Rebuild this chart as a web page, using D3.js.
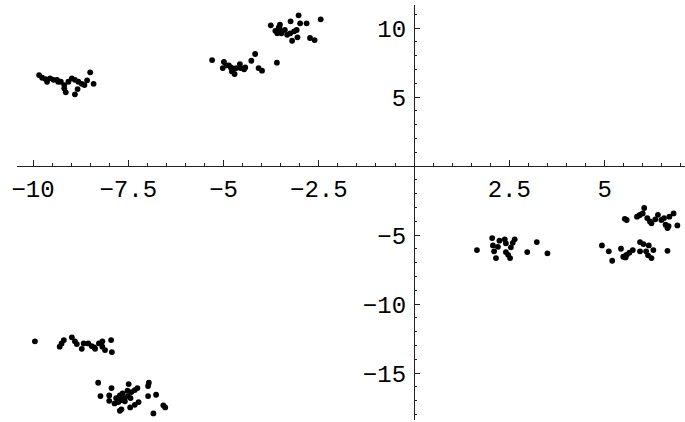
<!DOCTYPE html>
<html>
<head>
<meta charset="utf-8">
<script src="https://cdn.jsdelivr.net/npm/d3@7"></script>
<style>
  body { margin: 0; background: #fff; }
  svg { display: block; }
  .lbl { font-family: "Liberation Mono", "Courier New", monospace; font-size: 24px; fill: #000; }
</style>
</head>
<body>
<div id="chart"></div>
<script>
// point groups, [x, y]
var groupA = [[-9.84,6.59],[-9.76,6.40],[-9.67,6.30],[-9.63,6.11],[-9.55,6.36],[-9.46,6.25],[-9.37,6.25],[-9.34,6.11],
  [-9.27,6.11],[-9.18,5.87],[-9.14,5.34],[-9.18,5.63],[-9.07,6.11],[-8.98,6.36],[-8.90,6.25],[-8.81,6.11],[-8.72,5.96],
  [-8.90,5.20],[-8.65,5.87],[-8.50,6.79],[-8.41,5.96],[-8.58,6.21],[-8.83,5.58]];
var groupB = [[-5.30,7.68],[-4.99,7.54],[-5.02,7.10],[-4.92,7.30],[-4.81,7.15],[-4.78,6.86],[-4.71,6.67],[-4.67,7.10],
  [-4.57,7.39],[-4.55,7.10],[-4.43,7.15],[-4.46,7.01],[-4.27,7.63],[-4.17,8.12],[-4.08,7.10],[-3.99,6.91],[-3.60,7.49],
  [-4.75,7.05],[-4.86,7.30]];
var groupC = [[-3.76,10.20],[-3.64,9.80],[-3.59,9.62],[-3.52,10.24],[-3.52,9.91],[-3.39,9.86],[-3.48,9.62],[-3.24,10.49],
  [-3.25,9.62],[-3.20,9.08],[-3.15,9.76],[-3.08,9.86],[-3.03,10.92],[-2.99,10.34],[-2.82,10.34],[-3.06,9.33],[-2.45,10.63],
  [-2.73,9.28],[-2.61,9.13],[-3.33,9.51],[-3.55,10.05]];
var groupD = [[-9.95,-12.70],[-9.30,-13.09],[-9.25,-12.85],[-9.19,-12.61],[-8.98,-12.41],[-8.90,-12.70],[-8.85,-12.90],
  [-8.67,-12.85],[-8.72,-13.24],[-8.55,-12.85],[-8.46,-13.04],[-8.37,-13.24],[-8.27,-12.85],[-8.18,-13.09],[-8.11,-13.33],
  [-7.95,-12.61],[-7.93,-13.48],[-8.18,-12.70],[-8.39,-13.14]];
var groupE = [[-8.29,-15.70],[-7.94,-16.09],[-8.23,-16.67],[-8.00,-16.62],[-8.00,-17.01],[-7.86,-17.20],[-7.82,-16.81],
  [-7.72,-16.62],[-7.65,-16.47],[-7.59,-16.81],[-7.68,-16.96],[-7.51,-16.67],[-7.52,-16.28],[-7.49,-15.80],[-7.42,-16.38],
  [-7.33,-16.23],[-7.26,-16.09],[-7.44,-16.81],[-7.68,-17.63],[-7.72,-17.73],[-7.45,-17.49],[-7.33,-17.30],[-7.23,-17.10],
  [-6.96,-15.70],[-6.98,-15.94],[-6.98,-16.67],[-6.77,-16.57],[-6.84,-17.92],[-6.58,-17.34],[-6.53,-17.49],[-7.76,-17.10],
  [-7.59,-17.05]];
var groupF = [[1.65,-6.09],[2.05,-5.22],[2.07,-5.75],[2.10,-6.18],[2.15,-6.67],[2.24,-5.41],[2.38,-5.31],[2.41,-5.60],
  [2.41,-6.23],[2.47,-6.43],[2.52,-6.67],[2.59,-5.56],[2.64,-5.31],[2.54,-5.89],[2.97,-6.23],[3.22,-5.51],[3.50,-6.33],
  [2.20,-5.85]];
var groupG = [[4.93,-5.75],[5.11,-6.18],[5.20,-6.86],[5.43,-5.99],[5.49,-6.57],[5.58,-6.43],[5.65,-6.28],[5.74,-6.09],
  [5.93,-5.51],[6.02,-5.65],[5.93,-6.18],[6.09,-6.18],[6.16,-5.75],[6.14,-6.47],[6.28,-6.09],[6.23,-6.67],[6.65,-6.14],
  [5.56,-6.47],[5.55,-6.62]];
var groupH = [[5.53,-3.82],[5.58,-3.91],[5.85,-3.67],[5.93,-3.53],[6.00,-3.43],[6.04,-3.04],[6.12,-3.77],[6.19,-4.01],
  [6.23,-4.15],[6.33,-3.86],[6.40,-3.53],[6.49,-3.91],[6.56,-3.77],[6.60,-4.25],[6.65,-4.49],[6.70,-3.67],[6.81,-3.43],
  [6.91,-4.30],[6.68,-4.35],[5.91,-3.57]];

var xTicks = [-10, -7.5, -5, -2.5, 2.5, 5];
var xTickLabels = ["−10", "−7.5", "−5", "−2.5", "2.5", "5"];
var yTicks = [-15, -10, -5, 5, 10];
var yTickLabels = ["−15", "−10", "−5", "5", "10"];

var width = 685, height = 422;

var x = d3.scaleLinear().domain([-10.42, 7.11]).range([17, 685]);
var y = d3.scaleLinear().domain([11.67, -18.4]).range([5, 420]);

var svg = d3.select("#chart").append("svg").attr("width", width).attr("height", height);

var x0 = x(0), y0 = y(0);

// minor ticks
var xMinor = d3.range(-10, 7.01, 0.5).filter(function (v) { return v !== 0 && xTicks.indexOf(v) < 0; });
var yMinor = d3.range(-18, 11.01, 1).filter(function (v) { return v !== 0 && yTicks.indexOf(v) < 0; });

var axes = svg.append("g").attr("stroke", "#222").attr("stroke-width", 1).attr("shape-rendering", "crispEdges");

axes.append("line").attr("x1", 17).attr("x2", 685).attr("y1", y0).attr("y2", y0);
axes.append("line").attr("x1", x0).attr("x2", x0).attr("y1", 5).attr("y2", 420);

axes.selectAll(".xmin").data(xMinor).enter().append("line")
    .attr("x1", function (d) { return x(d); }).attr("x2", function (d) { return x(d); })
    .attr("y1", y0).attr("y2", y0 - 3);
axes.selectAll(".xmaj").data(xTicks).enter().append("line")
    .attr("x1", function (d) { return x(d); }).attr("x2", function (d) { return x(d); })
    .attr("y1", y0).attr("y2", y0 - 6);
axes.selectAll(".ymin").data(yMinor).enter().append("line")
    .attr("y1", function (d) { return y(d); }).attr("y2", function (d) { return y(d); })
    .attr("x1", x0).attr("x2", x0 + 3);
axes.selectAll(".ymaj").data(yTicks).enter().append("line")
    .attr("y1", function (d) { return y(d); }).attr("y2", function (d) { return y(d); })
    .attr("x1", x0).attr("x2", x0 + 6);

svg.selectAll(".xl").data(xTicks).enter().append("text")
    .attr("class", "lbl")
    .attr("x", function (d) { return x(d); })
    .attr("y", y0 + 31)
    .attr("text-anchor", "middle")
    .text(function (d, i) { return xTickLabels[i]; });

svg.selectAll(".yl").data(yTicks).enter().append("text")
    .attr("class", "lbl")
    .attr("x", x0 - 8)
    .attr("y", function (d) { return y(d) + 9; })
    .attr("text-anchor", "end")
    .text(function (d, i) { return yTickLabels[i]; });

var points = [].concat(groupA, groupB, groupC, groupD, groupE, groupF, groupG, groupH);

svg.append("g").selectAll("circle").data(points).enter().append("circle")
    .attr("cx", function (d) { return x(d[0]); })
    .attr("cy", function (d) { return y(d[1]); })
    .attr("r", 2.9)
    .attr("fill", "#000");
</script>
</body>
</html>
